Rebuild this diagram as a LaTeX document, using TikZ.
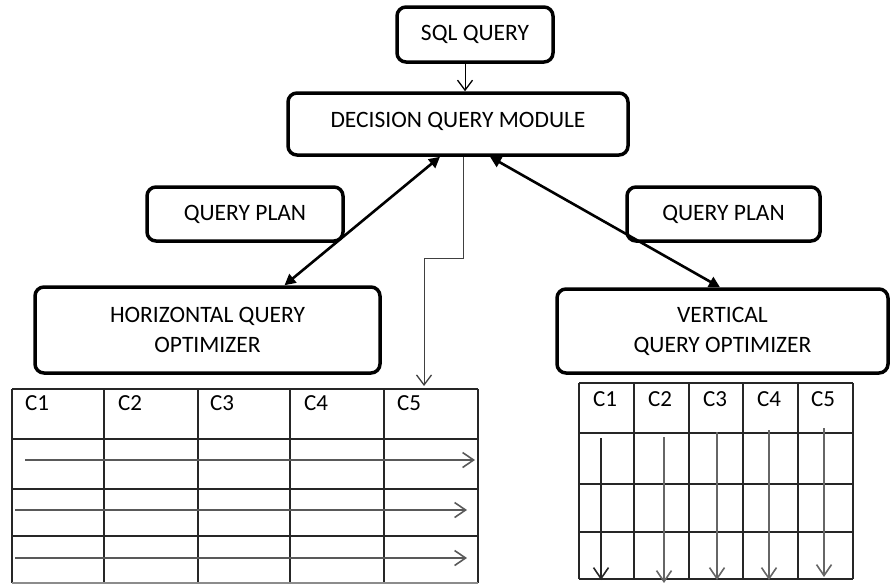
\documentclass[tikz,border=0pt]{standalone}
\usepackage{fontspec}
\setmainfont{Carlito}
\usetikzlibrary{arrows.meta}
\begin{document}
\begin{tikzpicture}[x=1pt,y=-1pt,
  box/.style={draw=black,line width=3.5pt,rounded corners=9pt,align=center,
    font=\fontsize{23.5}{30}\selectfont,inner sep=0pt},
  dbl/.style={line width=2.6pt,{Triangle[length=11pt,width=11pt]}-{Triangle[length=11pt,width=11pt]},shorten <=0pt,shorten >=0pt},
  opn/.style={line width=1.3pt,-{Straight Barb[length=10pt,width=15pt,line width=1.3pt]}},
  flow/.style={line width=2pt,draw=black!65,-{Straight Barb[length=11pt,width=15pt,line width=1.6pt]}},
  vflow/.style={line width=1.6pt,draw=black!60,-{Straight Barb[length=11pt,width=15pt,line width=1.6pt]}},
  grid/.style={line width=1.6pt,draw=black!85},
  hdr/.style={anchor=west,font=\fontsize{23}{25}\selectfont,inner sep=0pt}]
\useasboundingbox (0,0) rectangle (890,584);

\node[box,minimum width=156pt,minimum height=55pt] (sql) at (475,34.5) {SQL QUERY};
\node[box,minimum width=340pt,minimum height=62pt,text depth=8pt] (dqm) at (458,124) {DECISION QUERY MODULE};
\node[box,minimum width=196pt,minimum height=54pt] (qpl) at (245,214) {QUERY PLAN};
\node[box,minimum width=345pt,minimum height=86pt] (hqo) at (207.5,330) {HORIZONTAL QUERY\\OPTIMIZER};
\node[box,minimum width=193pt,minimum height=54pt] (qpr) at (723.5,214) {QUERY PLAN};
\node[box,minimum width=331pt,minimum height=84pt] (vqo) at (722.5,331) {VERTICAL\\QUERY OPTIMIZER};

% connectors
\coordinate (sqlout) at ([xshift=-10pt]sql.south);
\draw[opn,line width=1pt] (sqlout) -- (sqlout |- dqm.north);
\draw[dbl] ([xshift=-18pt]dqm.south) -- ([xshift=77pt]hqo.north);
\draw[dbl] ([xshift=32pt]dqm.south) -- ([xshift=-2.5pt]vqo.north);

% left table
\coordinate (ltab) at (424,389);
\draw[opn,line width=1pt,draw=black!75] ([xshift=5pt]dqm.south) -- ++(0,102) -| ([yshift=3pt]ltab);
\foreach \x in {12,104,198,290,384,478} \draw[grid] (\x,389) -- (\x,583);
\foreach \y in {389,439,489,536} \draw[grid] (12,\y) -- (478,\y);
\draw[line width=1.6pt,draw=black!45] (12,583) -- (478,583);
\foreach \x/\t in {25/C1,118/C2,210/C3,304/C4,397/C5} \node[hdr] (l\t) at (\x,403) {\t};
\draw[flow] (25,460) -- (475,460);
\draw[flow] (15,510) -- (467,510);
\draw[flow] (15,558) -- (467,558);

% right table
\foreach \x in {579,634,689,743,798,853} \draw[grid] (\x,383) -- (\x,579);
\foreach \y in {383,433,484,532,579} \draw[grid] (579,\y) -- (853,\y);
\foreach \x/\t in {593/C1,648/C2,703/C3,757/C4,811/C5} \node[hdr] (r\t) at (\x,399) {\t};
\draw[vflow,draw=black!85] (601,438) -- (601,580);
\draw[vflow] (664,437) -- (664,583);
\draw[vflow] (717,432) -- (717,580);
\draw[vflow] (769,430) -- (769,580);
\draw[vflow] (824,428) -- (824,577);
\end{tikzpicture}
\end{document}
